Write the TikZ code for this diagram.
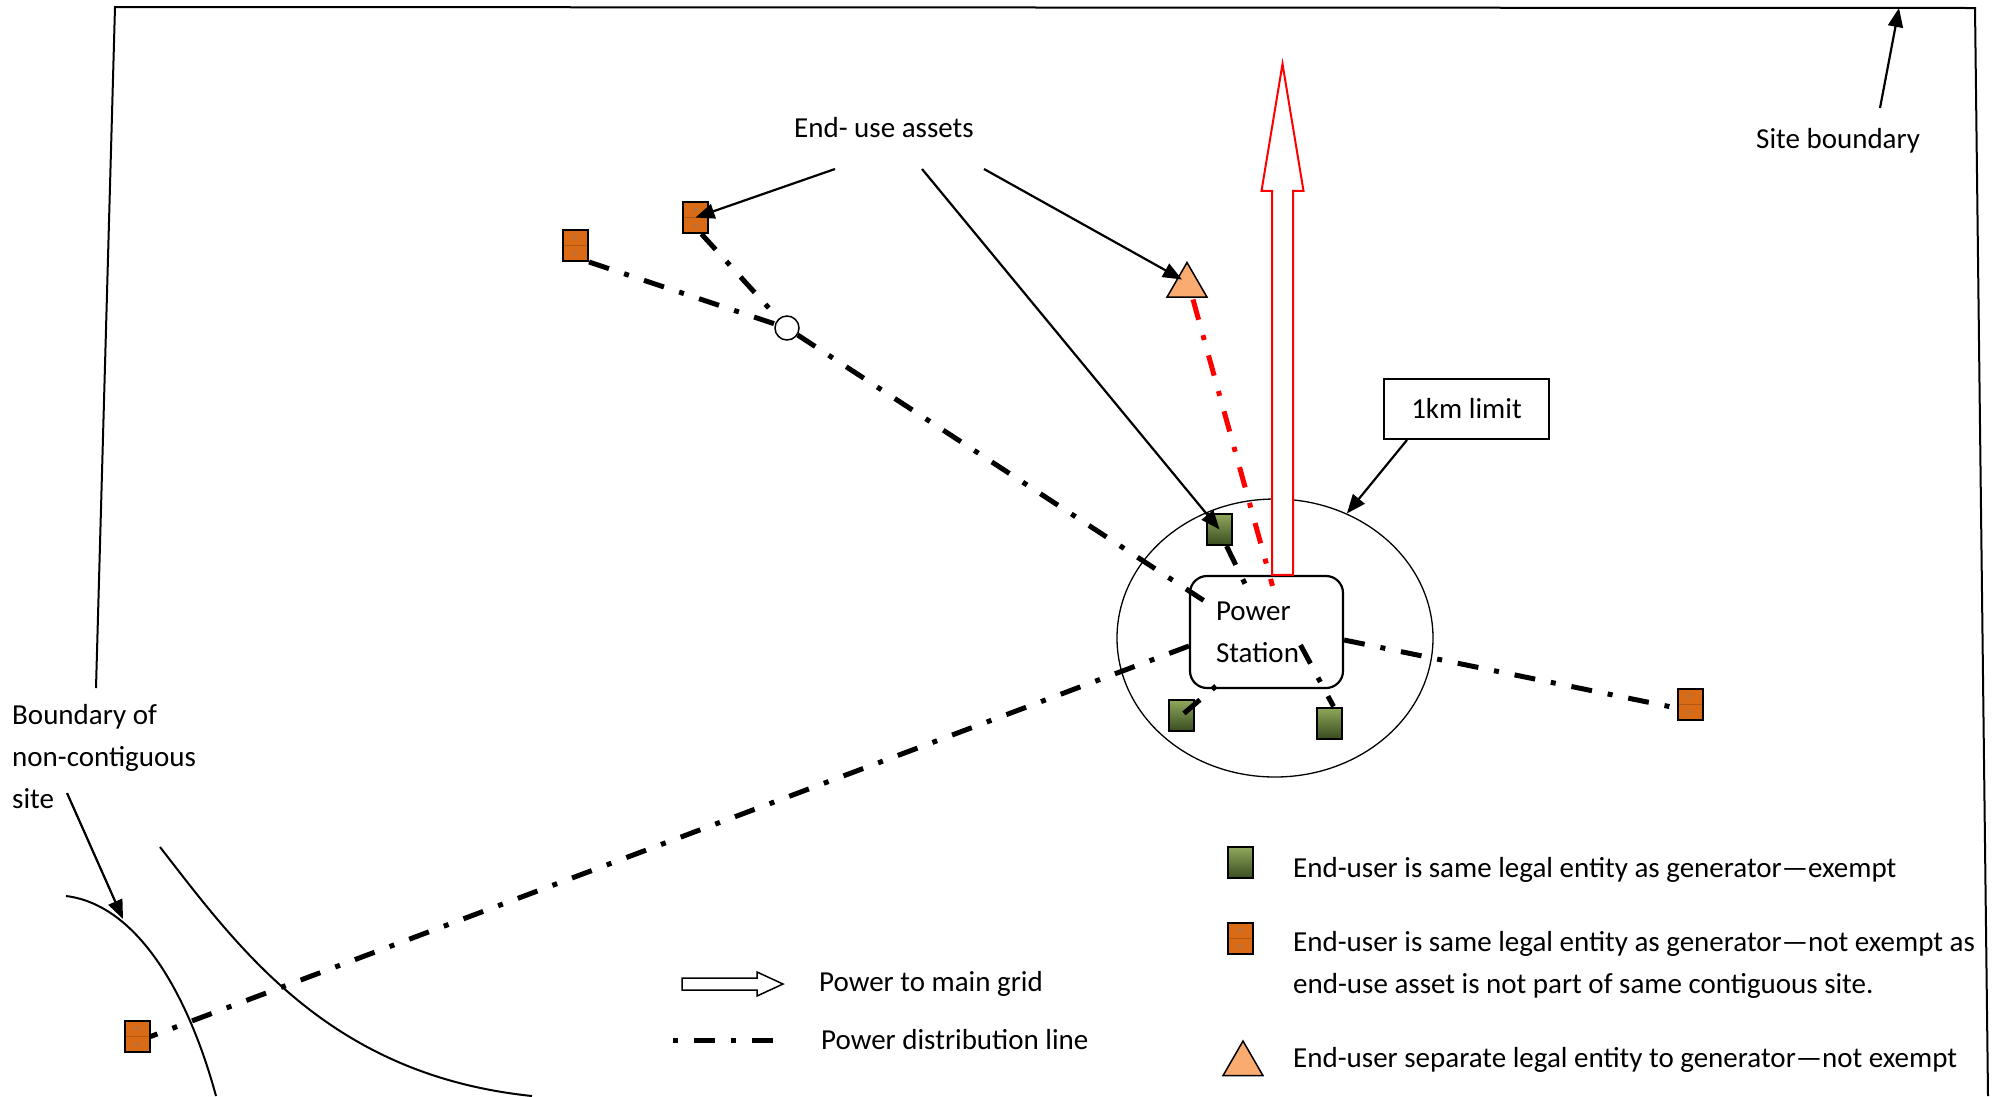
\documentclass[tikz,border=0pt]{standalone}
\usepackage{fontspec}
\setmainfont{Carlito}
\usetikzlibrary{calc,arrows.meta,shapes.geometric}
\definecolor{orangefill}{RGB}{217,107,22}
\definecolor{orangeline}{RGB}{178,88,22}
\definecolor{dotgray}{RGB}{150,120,95}
\definecolor{greentop}{RGB}{143,168,92}
\definecolor{greenbot}{RGB}{58,76,32}
\definecolor{trifill}{RGB}{250,172,112}
\begin{document}
\begin{tikzpicture}[x=1pt,y=-1pt,
  font=\fontsize{29}{42}\selectfont,
  distline/.style={line width=5pt, dash pattern=on 21pt off 16pt on 5pt off 16pt},
  reddist/.style={distline, red},
  orangebox/.style={draw=black, line width=2pt, fill=orangefill, minimum width=25pt, minimum height=31pt, inner sep=0pt,
     path picture={\draw[orangeline, line width=1pt] (path picture bounding box.west) -- (path picture bounding box.east);
        \fill[dotgray] ($(path picture bounding box.center)+(0,-8)$) circle (1.6pt);
        \fill[dotgray] ($(path picture bounding box.center)+(0,8)$) circle (1.6pt);}},
  greenbox/.style={draw=black, line width=2pt, top color=greentop, bottom color=greenbot, minimum width=25pt, minimum height=31pt, inner sep=0pt},
  tri/.style={regular polygon, regular polygon sides=3, draw=black, line width=1.5pt, fill=trifill, minimum size=46pt, inner sep=0pt},
  pointer/.style={line width=2.2pt, -{Triangle[length=19pt,width=15pt]}},
  lbl/.style={inner sep=0pt, anchor=base west},
]
\fill[white] (0,0) rectangle (2002,1096);
\useasboundingbox (0,0) rectangle (2002,1096);

% site boundary
\draw[line width=2pt] (96,688) -- (115,7) -- (1975,8) -- (1988,1096);

% non-contiguous site boundary curves
\draw[line width=2pt] (66,896) .. controls (140,905) and (190,1000) .. (216,1096);
\draw[line width=2pt] (160,847) .. controls (240,950) and (330,1075) .. (532,1096);

% 1km limit ellipse
\node[ellipse, draw, line width=1.3pt, minimum width=316pt, minimum height=278pt, inner sep=0pt] (lim) at (1275,638) {};

% power station
\node[draw, line width=2.2pt, rounded corners=17pt, fill=white, minimum width=153pt, minimum height=112pt,
      text width=101pt, align=left, inner sep=0pt] (ps) at (1266.5,632) {Power\\Station};

% red hollow arrow to main grid
\coordinate (gb) at ($(ps.north)+(16,0)$);
\draw[red, line width=2pt, fill=white] (gb) ++(-10.5,0) -- ++(0,-384) -- ++(-10.5,0) -- ++(21,-127) -- ++(21,127) -- ++(-10.5,0) -- ++(0,384) -- cycle;

% end-use assets
\node[orangebox] (o1) at (575.5,245.5) {};
\node[orangebox] (o2) at (695.5,217.5) {};
\node[orangebox] (o3) at (1690,704) {};
\node[orangebox] (o4) at (137,1036.5) {};
\node[greenbox] (g1) at (1219.5,529.5) {};
\node[greenbox] (g2) at (1181.5,715.5) {};
\node[greenbox] (g3) at (1329.5,723) {};
\node[tri] (t1) at (1187,285.5) {};
\node[circle, draw, fill=white, line width=1.5pt, minimum size=24pt, inner sep=0pt] (j) at (787,328) {};

% distribution lines
\coordinate (psA) at (1206,602);
\coordinate (psB) at (1248,590);
\coordinate (psD) at ($(ps.south west)+(27,-3)$);
\coordinate (psE) at ($(ps.center)+(34,13)$);
\draw[distline] (o1.south east) -- (j);
\draw[distline] ([xshift=6pt]o2.south) -- (j);
\draw[distline] (j) -- (psA);
\draw[distline] ([xshift=7pt]g1.south) -- (psB);
\draw[distline] ($(ps.east)+(0,8)$) -- ($(o3.west)+(0,4)$);
\draw[distline] ($(ps.west)+(0,14)$) -- (o4.east);
\draw[distline, dash phase=37pt] (psD) -- (g2.center);
\draw[distline] (psE) -- ([xshift=4pt]g3.north);
\draw[reddist] ($(t1.center)+(6,14)$) -- ($(ps.north)+(6,11)$);

% labels and pointers
\node[lbl] (eu) at (794,137) {End- use assets};
\draw[pointer] ($(eu.base west)+(41,32)$) -- (o2.center);
\draw[pointer] ($(eu.base west)+(128,32)$) -- (g1.center);
\draw[pointer] ($(eu.base west)+(190,32)$) -- ($(t1.center)+(-5,-6)$);

\node[draw, line width=2pt, minimum width=165pt, minimum height=60pt, inner sep=0pt] (km) at (1466.5,409) {1km limit};
\draw[pointer] ($(km.south west)+(24,0)$) -- (lim.60);

\node[lbl] (sb) at (1756,148) {Site boundary};
\coordinate (sbtip) at (1899,8);
\draw[pointer] ($(sb.base west)+(124,-40)$) -- (sbtip);

\node[lbl, align=left] (bnd) at (12,808) {Boundary of\\non-contiguous\\site};
\coordinate (bndtail) at (67,793);
\coordinate (bndtip) at (123,919);
\draw[pointer] (bndtail) -- (bndtip);

% legend
\coordinate (la) at (682,984);
\draw[line width=1.5pt, fill=white] (la) ++(0,-6) -- ++(75,0) -- ++(0,-6) -- ++(26,12) -- ++(-26,12) -- ++(0,-6) -- ++(-75,0) -- cycle;
\node[lbl] (lat) at (819,991) {Power to main grid};
\coordinate (ld1) at (673,1040);
\coordinate (ld2) at (775,1040);
\draw[distline, dash phase=37pt] (ld1) -- (ld2);
\node[lbl] (ldt) at (821,1049) {Power distribution line};

\node[greenbox] (lg) at (1240,862.5) {};
\node[orangebox] (lo) at (1240,938) {};
\node[tri] (lt) at (1243,1064) {};
\node[lbl] (lgt) at (1293,877) {End-user is same legal entity as generator—exempt};
\node[lbl, align=left] (lot) at (1293,993) {End-user is same legal entity as generator—not exempt as\\end-use asset is not part of same contiguous site.};
\node[lbl] (ltt) at (1293,1067) {End-user separate legal entity to generator—not exempt};
\end{tikzpicture}
\end{document}
